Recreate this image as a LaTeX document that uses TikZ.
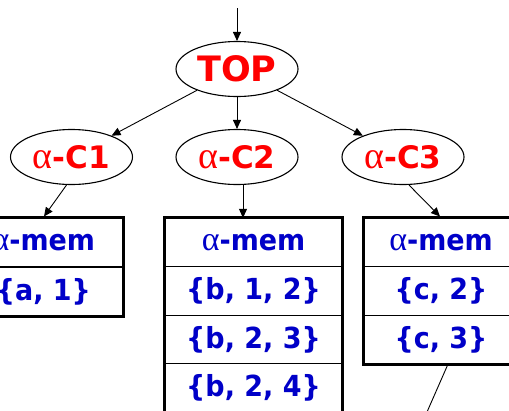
\documentclass[tikz,border=0pt]{standalone}
\usepackage{fontspec}
\setmainfont{DejaVu Sans}
\newfontfamily\greekfont{Liberation Serif}
\newfontfamily\memfont[FakeStretch=0.93]{DejaVu Sans Bold}
\usetikzlibrary{shapes.geometric,arrows.meta}
\definecolor{condred}{RGB}{255,0,0}
\definecolor{memblue}{RGB}{0,0,200}
% upright serif alpha at a given size
\newcommand{\alp}[1]{{\greekfont\mdseries\fontsize{#1}{#1}\selectfont α}}
\begin{document}
\begin{tikzpicture}[x=1pt,y=-1pt,
  cond/.style={ellipse,draw,line width=1.1pt,minimum width=122pt,minimum height=55pt,inner sep=0pt,
    text=condred,font=\fontsize{31}{31}\selectfont\bfseries},
  cell/.style={rectangle,draw,line width=0.8pt,minimum height=48.5pt,inner sep=0pt,
    text=memblue,font=\memfont\fontsize{29}{29}\selectfont},
  frame/.style={line width=3pt},
  link/.style={line width=0.9pt,-{Triangle[length=9pt,width=8pt]}},
  plain/.style={line width=0.9pt}]
\useasboundingbox (0,0) rectangle (509,410);

% condition nodes
\node[cond,font=\fontsize{35}{35}\selectfont\bfseries] (top) at (237,69) {TOP};
\node[cond] (c1) at (71.5,157) {\alp{38}-C1};
\node[cond] (c2) at (237,157) {\alp{38}-C2};
\node[cond] (c3) at (403,157) {\alp{38}-C3};

% alpha memory of C1
\begin{scope}[cell/.append style={minimum width=158.7pt}]
\node[cell] (m1h) at (43.35,242.5) {\alp{34}-mem};
\node[cell] (m1a) at (43.35,291.5) {\{a, 1\}};
\end{scope}
\draw[frame] (m1h.north west) rectangle (m1a.south east);

% alpha memory of C2
\begin{scope}[cell/.append style={minimum width=177pt}]
\node[cell] (m2h) at (253.5,242.5) {\alp{34}-mem};
\node[cell] (m2a) at (253.5,291) {\{b, 1, 2\}};
\node[cell] (m2b) at (253.5,339.5) {\{b, 2, 3\}};
\node[cell] (m2c) at (253.5,388) {\{b, 2, 4\}};
\end{scope}
\draw[frame] (m2h.north west) rectangle (m2c.south east);

% alpha memory of C3
\begin{scope}[cell/.append style={minimum width=154pt}]
\node[cell] (m3h) at (441,242.5) {\alp{34}-mem};
\node[cell] (m3a) at (441,291) {\{c, 2\}};
\node[cell] (m3b) at (441,339.5) {\{c, 3\}};
\end{scope}
\draw[frame] (m3h.north west) rectangle (m3b.south east);

% connectors
\coordinate (in) at (237,8);
\coordinate (out) at (427,412);
\draw[link] (in) -- (top);
\draw[link] (top) -- (c1);
\draw[link] (top) -- (c2);
\draw[link] (top) -- (c3);
\draw[link] (c1.south) ++(-5,0) -- (44,216.5);
\draw[link] (c2.south -| 243,0) -- (m2h.north -| 243,0);
\draw[link] (c3.south) ++(6,0) -- (440,216.5);
\draw[plain] (m3b.south -| 448,0) -- (out);
\end{tikzpicture}
\end{document}
